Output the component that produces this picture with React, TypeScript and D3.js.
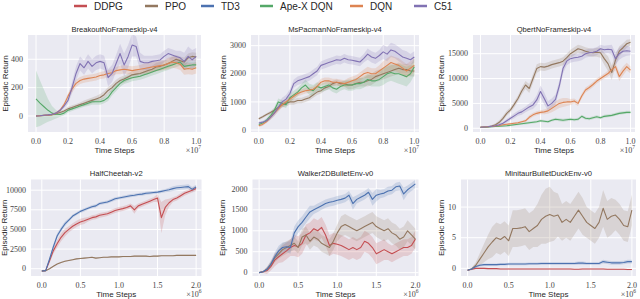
import React from 'react';
import * as d3 from 'd3';

// ---------- categories / styling keys ----------
const ALGOS = ['DDPG', 'PPO', 'TD3', 'Ape-X DQN', 'DQN', 'C51'];
const COLORS: Record<string, string> = {
  DDPG: '#c44e52', PPO: '#937860', TD3: '#4c72b0', 'Ape-X DQN': '#55a868', DQN: '#dd8452', C51: '#8172b3',
};

// evaluation step grids (units of 1e7 for Atari, 1e6 for MuJoCo/Bullet)
const ATARI_STEPS = d3.range(41).map(i => +(i * 0.025).toFixed(3));
const MUJOCO_STEPS = d3.range(41).map(i => +(i * 0.05).toFixed(2));

// ---------- Breakout ----------
const breakoutPPO = [0,2,4,6,8,15,25,35,50,60,70,80,90,100,110,120,130,150,180,200,230,250,260,275,290,295,300,310,320,330,345,350,360,370,385,400,390,380,410,420,415];
const breakoutPPOSd = [3,3,3,3,5,8,10,10,15,15,15,15,20,20,20,20,25,25,25,25,25,25,25,25,25,25,25,25,25,25,30,30,30,30,30,30,30,30,30,30,30];
const breakoutApeX = [120,90,65,40,20,12,10,20,40,50,60,70,80,90,100,100,100,110,130,170,200,230,250,260,270,275,280,290,300,310,320,330,340,350,360,370,380,350,355,360,360];
const breakoutApeXSd = [200,160,120,80,50,30,15,15,15,15,15,15,15,20,20,20,20,20,25,25,25,25,25,25,25,25,25,25,25,25,25,25,25,25,25,25,25,25,25,25,25];
const breakoutDQN = [0,2,4,6,10,20,40,80,140,190,230,250,260,265,270,275,285,290,300,305,320,325,330,325,320,325,330,335,340,345,350,355,360,370,380,375,365,330,335,330,340];
const breakoutDQNSd = [3,3,3,4,5,8,10,15,20,25,25,25,25,25,25,25,25,25,25,25,25,30,30,30,30,30,30,35,35,35,35,35,35,40,40,40,40,40,40,40,40];
const breakoutC51 = [0,2,5,8,12,20,40,70,110,200,300,370,340,385,350,375,385,375,270,300,370,440,360,420,500,490,385,375,375,385,390,395,420,440,430,420,410,385,420,395,420];
const breakoutC51Sd = [5,5,5,5,5,8,10,15,25,40,50,50,50,50,50,50,50,50,60,60,60,70,80,80,80,70,60,50,50,40,40,40,40,40,40,40,50,60,70,70,60];

// ---------- MsPacman ----------
const pacmanPPO = [400,470,550,620,700,800,900,950,1000,1000,1050,1050,1100,1150,1250,1350,1400,1500,1550,1650,1700,1650,1650,1600,1600,1650,1700,1700,1750,1800,1900,1950,2000,2050,2100,2150,2200,2150,2150,2100,2100];
const pacmanPPOSd = [50,50,50,60,80,100,100,100,100,100,100,100,100,100,100,100,100,100,100,100,100,100,100,150,150,150,150,150,200,200,200,200,200,200,200,200,200,200,200,200,200];
const pacmanApeX = [200,250,350,500,700,1000,950,900,1150,1250,1350,1500,1600,1450,1400,1550,1500,1550,1600,1500,1450,1550,1600,1600,1600,1650,1650,1700,1800,1750,1750,1800,1900,2000,2050,2000,2000,1950,1900,2000,2250];
const pacmanApeXSd = [50,50,80,100,100,120,120,120,150,150,150,150,200,200,200,150,150,150,150,150,150,150,150,200,200,200,200,200,200,200,200,250,300,300,300,300,350,350,350,300,300];
const pacmanDQN = [150,200,300,450,600,750,900,1000,1100,1200,1300,1350,1400,1420,1450,1550,1700,1750,1750,1700,1700,1680,1650,1700,1750,1800,1900,2000,2050,2000,2000,2100,2200,2300,2400,2350,2300,2200,2100,2200,2300];
const pacmanDQNSd = [50,50,60,80,100,100,100,100,100,100,100,100,100,100,100,120,120,120,120,120,120,120,120,150,150,150,150,150,200,200,200,200,250,250,250,250,250,250,250,250,250];
const pacmanC51 = [250,280,330,450,600,800,1000,1100,1300,1650,1750,1800,1850,1900,2000,2100,2300,2350,2400,2450,2500,2480,2550,2500,2480,2450,2420,2550,2700,2600,2550,2650,2780,2700,2850,2800,2700,2600,2550,2500,2600];
const pacmanC51Sd = [50,50,60,80,100,120,150,150,150,150,150,150,150,150,150,150,150,150,150,150,150,150,150,150,150,150,150,150,200,200,200,200,250,250,250,250,250,250,250,200,200];

// ---------- Qbert ----------
const qbertPPO = [200,250,300,450,700,1200,2000,3000,3700,4800,6000,7500,8700,8000,10000,12000,12400,12300,12500,12800,13000,13200,13500,14200,15000,15500,16000,15800,15500,15300,15200,15300,15200,14000,13000,11200,13700,15500,16200,17000,17300];
const qbertPPOSd = [100,100,150,200,300,400,500,500,500,600,600,700,800,900,900,900,800,800,800,800,800,800,800,800,800,800,800,800,800,800,800,900,1000,1200,1500,1500,1200,1000,900,800,600];
const qbertApeX = [200,220,250,300,350,400,450,500,600,700,800,900,1000,1100,1200,1300,1500,1400,1300,1600,1800,1700,1600,1700,1800,1700,1800,2400,2000,1900,2100,2300,2100,2400,2500,2600,2800,3000,3100,3200,3200];
const qbertApeXSd = [50,50,50,80,100,100,150,150,200,200,200,200,250,250,250,250,250,250,250,250,300,300,300,300,300,300,300,300,300,300,300,300,300,300,300,300,300,300,300,300,300];
const qbertDQN = [200,250,300,350,450,550,700,800,900,1000,1100,1300,1500,2200,2700,3000,3200,3300,3500,4000,4500,5000,5200,5300,5300,5500,5000,6500,7700,8200,8800,9500,10000,10500,11000,11800,12400,10400,11500,12400,11700];
const qbertDQNSd = [100,100,100,100,100,150,150,200,200,200,200,200,300,400,400,400,400,500,600,800,900,900,900,800,600,500,500,500,500,500,500,500,500,500,600,700,800,900,900,800,700];
const qbertC51 = [200,250,300,400,500,700,1000,1500,2000,2500,3000,3300,3800,4300,4700,5700,7400,6000,4500,5000,5800,8500,12000,13500,14000,14200,14300,14500,15000,15200,15300,15500,16000,15800,15900,15800,14000,15000,15500,15600,15500];
const qbertC51Sd = [100,100,150,200,200,300,300,400,400,500,500,600,600,700,800,1000,1200,1200,1000,1000,1000,1000,1000,800,800,800,800,800,800,800,800,800,800,800,800,1000,1200,1200,1200,1000,800];

// ---------- HalfCheetah ----------
const cheetahDDPG = [-300,-250,1000,2300,3200,4000,4600,5000,5400,5700,5950,6100,6300,6500,6600,6800,6900,7000,7200,7400,7550,7650,7800,8000,7500,8000,8200,8400,8600,8800,9000,6500,7800,8400,8800,9000,9300,9600,9800,10000,10200];
const cheetahDDPGSd = [100,100,300,400,500,500,500,400,400,400,400,400,300,300,300,300,300,300,300,300,300,300,300,300,500,300,300,300,300,300,500,2000,1000,500,300,300,300,300,300,300,300];
const cheetahPPO = [-300,-250,0,300,600,800,950,1050,1150,1250,1300,1350,1400,1450,1350,1400,1450,1450,1500,1500,1500,1550,1550,1550,1600,1600,1600,1600,1550,1600,1600,1650,1650,1650,1650,1700,1700,1700,1700,1700,1700];
const cheetahPPOSd = [50,50,80,80,80,80,80,80,80,80,80,80,80,80,80,80,80,80,80,80,80,80,80,80,80,80,80,80,80,80,80,80,80,80,80,80,80,80,80,80,80];
const cheetahTD3 = [-300,-250,1200,2800,4200,5000,5700,6200,6700,7000,7300,7500,7700,7900,8000,8300,8400,8500,8700,8900,9000,9100,9200,9300,9350,9450,9500,9600,9650,9700,9750,9850,9950,10050,10200,10300,10350,10400,10450,10100,10400];
const cheetahTD3Sd = [100,100,300,300,300,300,300,200,200,200,200,200,200,200,200,200,200,200,200,200,200,200,200,200,200,200,200,200,200,200,200,200,200,250,300,300,300,300,300,300,300];

// ---------- Walker2D ----------
const walkerDDPG = [0,20,50,150,300,380,450,520,600,650,620,700,900,950,1050,1000,1080,900,650,700,680,650,600,550,600,550,600,750,700,600,450,500,550,500,450,500,550,600,600,650,800];
const walkerDDPGSd = [10,20,80,100,150,150,200,200,200,250,250,250,250,250,250,250,250,250,250,250,250,250,250,250,250,250,250,250,250,250,250,250,250,200,200,200,200,200,200,200,200];
const walkerPPO = [0,20,80,200,350,450,550,600,650,700,600,850,900,750,850,800,700,650,600,750,950,1100,1150,1100,1050,1000,1050,1100,1150,1200,1100,1050,1000,1050,950,900,800,850,1000,900,800];
const walkerPPOSd = [10,20,60,80,100,120,150,150,150,150,150,200,200,200,200,200,200,200,200,200,200,250,250,250,250,250,250,250,250,250,250,250,250,250,250,250,250,250,250,250,250];
const walkerTD3 = [0,20,80,200,380,520,600,620,600,950,1100,1200,1330,1450,1500,1550,1600,1650,1680,1700,1730,1750,1780,1850,1650,1750,1800,1850,1920,1750,1850,1880,1900,1950,1970,2050,2070,1880,1980,2050,2120];
const walkerTD3Sd = [10,20,50,80,100,120,120,120,150,150,150,150,150,150,100,100,100,100,100,100,100,100,100,100,150,100,100,100,100,150,150,100,100,100,100,100,100,150,100,100,100];

// ---------- Minitaur ----------
const minitaurDDPG = [-0.3,-0.15,0,0,0,-0.05,-0.05,-0.05,-0.1,-0.1,-0.1,-0.1,-0.1,-0.1,-0.1,-0.1,-0.1,-0.1,-0.1,-0.1,-0.1,-0.1,-0.1,-0.1,-0.1,-0.1,-0.15,-0.15,-0.1,-0.1,-0.1,-0.1,-0.1,-0.1,-0.15,-0.15,-0.15,-0.15,-0.15,-0.2,-0.2];
const minitaurDDPGSd = [0.05,0.05,0.1,0.1,0.1,0.1,0.1,0.1,0.1,0.1,0.1,0.1,0.1,0.1,0.1,0.1,0.1,0.1,0.1,0.1,0.1,0.1,0.1,0.1,0.1,0.1,0.1,0.1,0.1,0.1,0.1,0.1,0.1,0.1,0.1,0.1,0.1,0.1,0.1,0.1,0.1];
const minitaurPPO = [-0.3,-0.1,0.5,1.5,2.5,3.5,4.3,5.0,4.7,5.2,4.5,6.5,6.5,6.6,6.8,6.0,6.5,7.0,8.0,8.5,8.8,8.5,8.7,7.5,8.0,7.5,8.5,9.5,8.5,7.5,7.0,6.5,7.5,9.8,8.0,8.5,8.7,8.0,7.0,6.8,9.5];
const minitaurPPOSd = [0.1,0.2,0.5,1.0,1.5,2.0,2.5,2.5,2.5,2.5,2.5,3.0,3.0,3.0,3.0,3.0,3.0,3.5,4.0,4.5,4.5,4.0,3.5,3.0,3.0,3.0,3.0,3.0,3.0,2.5,2.5,2.5,2.5,3.0,3.0,3.0,2.5,2.5,2.5,2.5,2.5];
const minitaurTD3 = [-0.3,-0.1,0.3,0.5,0.6,0.6,0.6,0.6,0.65,0.65,0.7,0.7,0.7,0.7,0.7,0.75,0.75,0.75,0.8,0.8,0.8,0.8,0.8,0.8,0.8,0.8,0.8,0.85,0.85,0.8,0.8,0.8,0.8,1.1,1.0,0.9,0.9,0.9,0.95,1.1,1.1];
const minitaurTD3Sd = [0.05,0.1,0.15,0.2,0.2,0.2,0.2,0.2,0.2,0.2,0.2,0.2,0.2,0.2,0.2,0.2,0.2,0.2,0.25,0.25,0.25,0.25,0.25,0.25,0.25,0.25,0.25,0.25,0.25,0.25,0.25,0.25,0.25,0.3,0.3,0.3,0.3,0.3,0.3,0.3,0.3];

// ---------- tick values ----------
const ATARI_XTICKS = [0, 0.2, 0.4, 0.6, 0.8, 1.0];
const MUJOCO_XTICKS = [0, 0.5, 1.0, 1.5, 2.0];

type Series = { algo: string; mean: number[]; sd: number[] };
type PanelSpec = {
  title: string; steps: number[]; series: Series[];
  xDom: [number, number]; yDom: [number, number];
  xTicks: number[]; yTicks: number[]; exp: string;
  x0: number; x1: number; y0: number; y1: number; labelX: number;
};

const PANELS: PanelSpec[] = [
  { title: 'BreakoutNoFrameskip-v4', steps: ATARI_STEPS, exp: '7',
    series: [ { algo: 'PPO', mean: breakoutPPO, sd: breakoutPPOSd }, { algo: 'Ape-X DQN', mean: breakoutApeX, sd: breakoutApeXSd },
      { algo: 'DQN', mean: breakoutDQN, sd: breakoutDQNSd }, { algo: 'C51', mean: breakoutC51, sd: breakoutC51Sd } ],
    xDom: [-0.05, 1.03], yDom: [-113, 571], xTicks: ATARI_XTICKS, yTicks: [0, 200, 400],
    x0: 28, x1: 201, y0: 35, y1: 132, labelX: 5 },
  { title: 'MsPacmanNoFrameskip-v4', steps: ATARI_STEPS, exp: '7',
    series: [ { algo: 'PPO', mean: pacmanPPO, sd: pacmanPPOSd }, { algo: 'Ape-X DQN', mean: pacmanApeX, sd: pacmanApeXSd },
      { algo: 'DQN', mean: pacmanDQN, sd: pacmanDQNSd }, { algo: 'C51', mean: pacmanC51, sd: pacmanC51Sd } ],
    xDom: [-0.05, 1.03], yDom: [-70, 3380], xTicks: ATARI_XTICKS, yTicks: [0, 1000, 2000, 3000],
    x0: 251, x1: 419, y0: 35, y1: 132, labelX: 223 },
  { title: 'QbertNoFrameskip-v4', steps: ATARI_STEPS, exp: '7',
    series: [ { algo: 'PPO', mean: qbertPPO, sd: qbertPPOSd }, { algo: 'Ape-X DQN', mean: qbertApeX, sd: qbertApeXSd },
      { algo: 'DQN', mean: qbertDQN, sd: qbertDQNSd }, { algo: 'C51', mean: qbertC51, sd: qbertC51Sd } ],
    xDom: [-0.05, 1.03], yDom: [-750, 18760], xTicks: ATARI_XTICKS, yTicks: [0, 5000, 10000, 15000],
    x0: 473, x1: 635, y0: 35, y1: 132, labelX: 441.5 },
  { title: 'HalfCheetah-v2', steps: MUJOCO_STEPS, exp: '6',
    series: [ { algo: 'DDPG', mean: cheetahDDPG, sd: cheetahDDPGSd }, { algo: 'PPO', mean: cheetahPPO, sd: cheetahPPOSd },
      { algo: 'TD3', mean: cheetahTD3, sd: cheetahTD3Sd } ],
    xDom: [-0.14, 2.07], yDom: [-930, 11360], xTicks: MUJOCO_XTICKS, yTicks: [0, 2500, 5000, 7500, 10000],
    x0: 31, x1: 201.5, y0: 179.5, y1: 276, labelX: 4.5 },
  { title: 'Walker2DBulletEnv-v0', steps: MUJOCO_STEPS, exp: '6',
    series: [ { algo: 'DDPG', mean: walkerDDPG, sd: walkerDDPGSd }, { algo: 'PPO', mean: walkerPPO, sd: walkerPPOSd },
      { algo: 'TD3', mean: walkerTD3, sd: walkerTD3Sd } ],
    xDom: [-0.085, 2.04], yDom: [-80, 2225], xTicks: MUJOCO_XTICKS, yTicks: [0, 500, 1000, 1500, 2000],
    x0: 252.5, x1: 418.5, y0: 179.5, y1: 276, labelX: 222 },
  { title: 'MinitaurBulletDuckEnv-v0', steps: MUJOCO_STEPS, exp: '6',
    series: [ { algo: 'DDPG', mean: minitaurDDPG, sd: minitaurDDPGSd }, { algo: 'PPO', mean: minitaurPPO, sd: minitaurPPOSd },
      { algo: 'TD3', mean: minitaurTD3, sd: minitaurTD3Sd } ],
    xDom: [-0.08, 2.05], yDom: [-1.25, 14.5], xTicks: MUJOCO_XTICKS, yTicks: [0, 5, 10],
    x0: 461, x1: 636, y0: 179.5, y1: 276, labelX: 441.5 },
];

const SANS = '"Liberation Sans", Arial, sans-serif';
const SERIF = '"Liberation Serif", "DejaVu Serif", serif';

function Panel({ p, idx }: { p: PanelSpec; idx: number }) {
  const xs = d3.scaleLinear().domain(p.xDom).range([p.x0, p.x1]);
  const ys = d3.scaleLinear().domain(p.yDom).range([p.y1, p.y0]);
  const idxs = d3.range(p.steps.length);
  const clipId = `clip-${idx}`;
  const order = ALGOS.filter(a => p.series.some(s => s.algo === a));
  const ordered = order.map(a => p.series.find(s => s.algo === a)!);
  const fmtX = d3.format('.1f');
  return (
    <g>
      <defs>
        <clipPath id={clipId}>
          <rect x={p.x0} y={p.y0} width={p.x1 - p.x0} height={p.y1 - p.y0} />
        </clipPath>
      </defs>
      <rect x={p.x0} y={p.y0} width={p.x1 - p.x0} height={p.y1 - p.y0} fill="#eaeaf2" />
      {p.xTicks.map(t => (
        <line key={'gx' + t} x1={xs(t)} x2={xs(t)} y1={p.y0} y2={p.y1} stroke="#fff" strokeWidth={1} />
      ))}
      {p.yTicks.map(t => (
        <line key={'gy' + t} x1={p.x0} x2={p.x1} y1={ys(t)} y2={ys(t)} stroke="#fff" strokeWidth={1} />
      ))}
      <g clipPath={`url(#${clipId})`}>
        {ordered.map(s => {
          const area = d3.area<number>()
            .x(i => xs(p.steps[i]))
            .y0(i => ys(s.mean[i] - s.sd[i]))
            .y1(i => ys(s.mean[i] + s.sd[i]));
          return <path key={'a' + s.algo} d={area(idxs) || ''} fill={COLORS[s.algo]} fillOpacity={0.2} stroke="none" />;
        })}
        {ordered.map(s => {
          const line = d3.line<number>().x(i => xs(p.steps[i])).y(i => ys(s.mean[i]));
          return <path key={'l' + s.algo} d={line(idxs) || ''} fill="none" stroke={COLORS[s.algo]} strokeWidth={1.1} strokeLinejoin="round" />;
        })}
      </g>
      <text x={(p.x0 + p.x1) / 2} y={p.y0 - 3.5} textAnchor="middle" fontFamily={SANS} fontSize={7.6} fill="#262626">{p.title}</text>
      {p.xTicks.map(t => (
        <text key={'tx' + t} x={xs(t)} y={p.y1 + 11.5} textAnchor="middle" fontFamily={SERIF} fontSize={8} fill="#444">{fmtX(t)}</text>
      ))}
      {p.yTicks.map(t => (
        <text key={'ty' + t} x={p.x0 - 5} y={ys(t)} dy="0.33em" textAnchor="end" fontFamily={SERIF} fontSize={8} fill="#444">{String(t)}</text>
      ))}
      <text x={(p.x0 + p.x1) / 2} y={p.y1 + 21} textAnchor="middle" fontFamily={SANS} fontSize={8} fill="#262626">Time Steps</text>
      <text x={p.x1} y={p.y1 + 20.5} textAnchor="end" fontFamily={SERIF} fontSize={8} fill="#444">
        <tspan>×10</tspan><tspan dy={-3.5} fontSize={5.5}>{p.exp}</tspan>
      </text>
      <text transform={`translate(${p.labelX},${(p.y0 + p.y1) / 2}) rotate(-90)`} dy="0.35em" textAnchor="middle" fontFamily={SANS} fontSize={8} fill="#262626">Episodic Return</text>
    </g>
  );
}

const LEGEND_X = [74, 145, 201, 260, 350, 414];

export default function App() {
  return (
    <svg width={640} height={299} style={{ position: 'absolute', left: 0, top: 0, background: '#fff' }}>
      <rect x={0} y={0} width={640} height={299} fill="#fff" />
      {ALGOS.map((a, i) => (
        <g key={a}>
          <line x1={LEGEND_X[i]} x2={LEGEND_X[i] + 13} y1={6} y2={6} stroke={COLORS[a]} strokeWidth={2.5} />
          <text x={LEGEND_X[i] + 20} y={6} dy="0.35em" fontFamily={SANS} fontSize={10} fill="#262626">{a}</text>
        </g>
      ))}
      {PANELS.map((p, i) => <Panel key={p.title} p={p} idx={i} />)}
    </svg>
  );
}
